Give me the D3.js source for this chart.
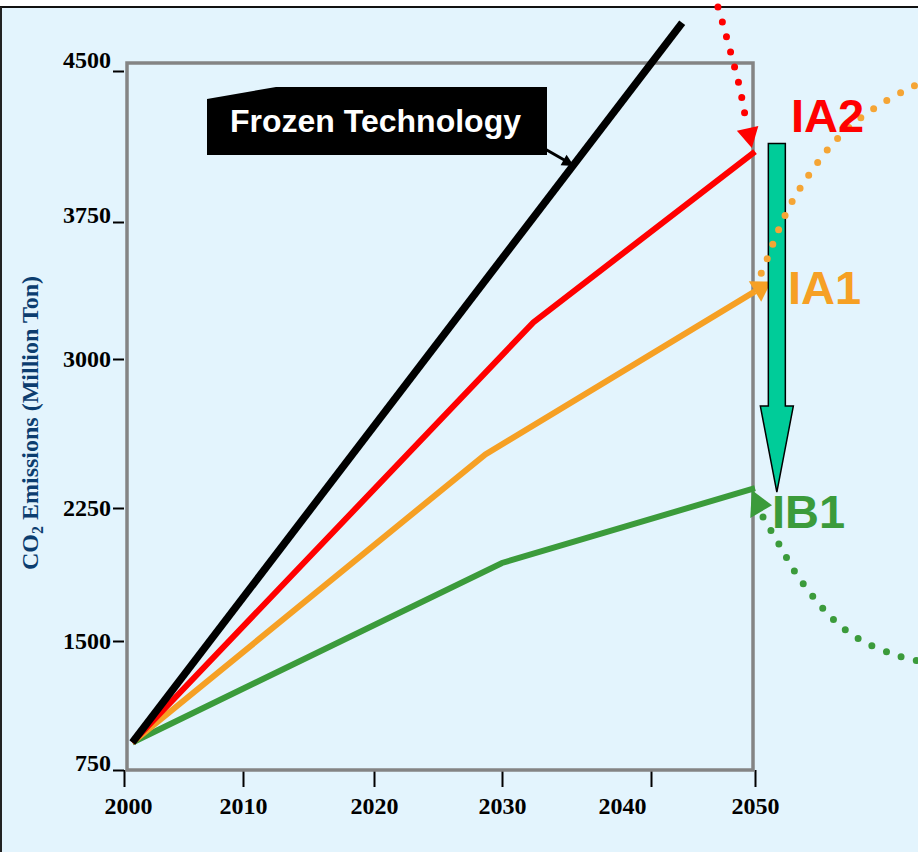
<!DOCTYPE html>
<html><head><meta charset="utf-8">
<script src="https://cdn.jsdelivr.net/npm/d3@7"></script>
<style>html,body{margin:0;padding:0;background:#fff;} svg{display:block;}</style>
</head><body>
<svg id="chart" width="918" height="852"></svg>
<script>
// ---- data ----
const tickYears = [2000, 2010, 2020, 2030, 2040, 2050];
const tickValues = [750, 1500, 2250, 3000, 3750, 4500];

const frozenYears = [2000.7, 2043];
const frozenValues = [910, 4740];
const ia2Years = [2000.7, 2032.1, 2050];
const ia2Values = [910, 3200, 4100];
const ia1Years = [2000.7, 2028.7, 2050];
const ia1Values = [910, 2520, 3370];
const ib1Years = [2000.7, 2030, 2050];
const ib1Values = [910, 1940, 2350];

// dotted annotation curves (data space)
const ia2CurveYears = [2046.06, 2046.25, 2047.0, 2047.8, 2048.56, 2049.13];
const ia2CurveValues = [4893, 4853, 4718, 4565, 4411, 4252];
const ia2CurveTip = [2049.7, 4118];
const ia1CurveYears = [2050.6, 2051.2, 2052.3, 2053.65, 2055.3, 2057.2, 2059.3, 2061.8, 2064.5, 2066.6];
const ia1CurveValues = [3470, 3553, 3712, 3859, 3993, 4123, 4232, 4326, 4406, 4455];
const ib1CurveYears = [2050.77, 2052.3, 2053.85, 2055.7, 2057.8, 2060.3, 2063, 2064.5, 2066.2];
const ib1CurveValues = [2199, 2047, 1889, 1742, 1607, 1500, 1430, 1401, 1378];

const shiftArrowYear = 2052.1;
const shiftArrowFrom = 4140;
const shiftArrowTo = 2330;

const labels = { ia2: "IA2", ia1: "IA1", ib1: "IB1", frozen: "Frozen Technology" };

// ---- layout / style ----
const W = 918, H = 852;
const colors = { bg: "#e3f4fd", frame: "#848484", black: "#000", red: "#ff0000",
  orange: "#f6a024", green: "#3b9b3b", teal: "#00cc99", title: "#0c3d6f" };

const svg = d3.select("#chart");
const x = d3.scaleLinear().domain(tickYears).range([124, 243, 374, 502, 651, 755]);
const y = d3.scaleLinear().domain(tickValues).range([770, 641, 508, 359, 222, 71]);

// background + border
svg.append("rect").attr("x", 0).attr("y", 0).attr("width", W).attr("height", H).attr("fill", "#fff");
svg.append("rect").attr("x", 0).attr("y", 7).attr("width", W).attr("height", H - 7).attr("fill", colors.bg);
svg.append("line").attr("x1", 0).attr("x2", W).attr("y1", 7).attr("y2", 7).attr("stroke", "#111").attr("stroke-width", 2);
svg.append("line").attr("x1", 1).attr("x2", 1).attr("y1", 7).attr("y2", H).attr("stroke", "#222").attr("stroke-width", 2);

// axes
const serif = "'Liberation Serif','Times New Roman',serif";
const sans = "'Liberation Sans',Arial,sans-serif";
const xNudge = { 2040: -29, 2000: 4 };
const yNudge = { 4500: -11, 3750: -7, 750: -7 };
const gx = svg.append("g").attr("transform", "translate(0,770)")
  .call(d3.axisBottom(x).tickValues(tickYears).tickFormat(d3.format("d")).tickSize(17).tickPadding(10));
gx.select(".domain").remove();
gx.selectAll(".tick line").attr("stroke", "#000").attr("stroke-width", 2);
gx.selectAll(".tick text").attr("font-family", serif).attr("font-weight", "bold").attr("font-size", 24)
  .attr("fill", "#000").attr("dx", d => xNudge[d] || 0);

const gy = svg.append("g").attr("transform", "translate(124,0)")
  .call(d3.axisLeft(y).tickValues(tickValues).tickFormat(d3.format("d")).tickSize(11).tickPadding(2));
gy.select(".domain").remove();
gy.selectAll(".tick line").attr("stroke", "#000").attr("stroke-width", 2);
gy.selectAll(".tick text").attr("font-family", serif).attr("font-weight", "bold").attr("font-size", 24)
  .attr("fill", "#000").attr("y", d => yNudge[d] || 0);

// y title
const yt = svg.append("text").attr("transform", "translate(38,423) rotate(-90)")
  .attr("text-anchor", "middle").attr("font-family", serif).attr("font-weight", "bold")
  .attr("font-size", 24).attr("fill", colors.title);
yt.append("tspan").text("CO");
yt.append("tspan").text("2").attr("font-size", 16).attr("dy", 5);
yt.append("tspan").text(" Emissions (Million Ton)").attr("dy", -5);

// frame
svg.append("rect").attr("x", 127).attr("y", 63).attr("width", 626).attr("height", 707)
  .attr("fill", "none").attr("stroke", colors.frame).attr("stroke-width", 3.5);

// series lines
const line = d3.line().x(d => x(d[0])).y(d => y(d[1]));
const zip = (a, b) => a.map((v, i) => [v, b[i]]);
const series = [
  { key: "ib1", pts: zip(ib1Years, ib1Values), color: colors.green, w: 6 },
  { key: "ia1", pts: zip(ia1Years, ia1Values), color: colors.orange, w: 6 },
  { key: "ia2", pts: zip(ia2Years, ia2Values), color: colors.red, w: 6 },
  { key: "frozen", pts: zip(frozenYears, frozenValues), color: colors.black, w: 7.5 }
];
svg.append("g").selectAll("path").data(series).join("path")
  .attr("d", d => line(d.pts)).attr("fill", "none")
  .attr("stroke", d => d.color).attr("stroke-width", d => d.w).attr("stroke-linejoin", "miter");

// arrowhead helper: tip point and unit direction
function arrowhead(tip, dir, len, half) {
  const n = Math.hypot(dir[0], dir[1]); const ux = dir[0] / n, uy = dir[1] / n;
  const bx = tip[0] - ux * len, by = tip[1] - uy * len;
  return `M${tip[0]},${tip[1]}L${bx - uy * half},${by + ux * half}L${bx + uy * half},${by - ux * half}Z`;
}

// IA1 line end arrow
{
  const p1 = [x(ia1Years[1]), y(ia1Values[1])], p2 = [x(ia1Years[2]), y(ia1Values[2])];
  const d = [p2[0] - p1[0], p2[1] - p1[1]]; const n = Math.hypot(d[0], d[1]);
  const tip = [p2[0] + d[0] / n * 19, p2[1] + d[1] / n * 19];
  svg.append("path").attr("d", `M${p2[0]},${p2[1]}L${tip[0] - d[0]/n*10},${tip[1] - d[1]/n*10}`)
    .attr("stroke", colors.orange).attr("stroke-width", 6);
  svg.append("path").attr("d", arrowhead(tip, d, 19, 12)).attr("fill", colors.orange);
}
// IB1 end arrow
{
  const p2 = [x(ib1Years[2]), y(ib1Values[2])];
  svg.append("path").attr("d", arrowhead([p2[0] + 17, p2[1] + 17], [1, 0.05], 21, 14)).attr("fill", colors.green);
}

// teal shift arrow
{
  const cx = x(shiftArrowYear), y0 = y(shiftArrowFrom), y1 = y(shiftArrowTo);
  const sw = 8.5, hw = 16.5, hl = 86;
  const p = `M${cx - sw},${y0}L${cx + sw},${y0}L${cx + sw},${y1 - hl}L${cx + hw},${y1 - hl}L${cx},${y1}L${cx - hw},${y1 - hl}L${cx - sw},${y1 - hl}Z`;
  svg.append("path").attr("d", p).attr("fill", colors.teal).attr("stroke", "#000").attr("stroke-width", 1.5)
    .attr("stroke-linejoin", "miter");
}

// dotted curves
const curve = d3.line().x(d => x(d[0])).y(d => y(d[1])).curve(d3.curveCatmullRom);
const dotted = [
  { pts: zip(ia2CurveYears, ia2CurveValues), color: colors.red },
  { pts: zip(ia1CurveYears, ia1CurveValues), color: "#f5a535" },
  { pts: zip(ib1CurveYears, ib1CurveValues), color: colors.green }
];
svg.append("g").selectAll("path").data(dotted).join("path")
  .attr("d", d => curve(d.pts)).attr("fill", "none").attr("stroke", d => d.color)
  .attr("stroke-width", 7).attr("stroke-linecap", "round").attr("stroke-dasharray", "0 15.6");
{
  const last = ia2CurveYears.length - 1;
  const from = [x(ia2CurveYears[last]), y(ia2CurveValues[last])];
  const tip = [x(ia2CurveTip[0]), y(ia2CurveTip[1])];
  svg.append("path").attr("d", arrowhead(tip, [tip[0] - from[0], tip[1] - from[1]], 20, 11)).attr("fill", colors.red);
}

// series labels
const lab = [
  { t: labels.ia2, yr: ia2Years[2], v: ia2Values[2], dx: 36, dy: -20, c: colors.red },
  { t: labels.ia1, yr: ia1Years[2], v: ia1Values[2], dx: 33, dy: 13, c: colors.orange },
  { t: labels.ib1, yr: ib1Years[2], v: ib1Values[2], dx: 17, dy: 40, c: colors.green }
];
svg.append("g").selectAll("text").data(lab).join("text")
  .attr("x", d => x(d.yr) + d.dx).attr("y", d => y(d.v) + d.dy)
  .attr("font-family", sans).attr("font-weight", "bold").attr("font-size", 47)
  .attr("fill", d => d.c).text(d => d.t);

// Frozen Technology callout
svg.append("path").attr("d", "M207,99L276,87L547,87L547,155L207,155Z").attr("fill", "#000");
svg.append("path").attr("d", "M545,149L566,161").attr("stroke", "#000").attr("stroke-width", 3);
svg.append("path").attr("d", arrowhead([574, 166], [21, 12], 12, 6)).attr("fill", "#000");
svg.append("text").attr("x", 230).attr("y", 132).attr("font-family", sans).attr("font-weight", "bold")
  .attr("font-size", 32).attr("fill", "#fff").text(labels.frozen);
</script>
</body></html>
